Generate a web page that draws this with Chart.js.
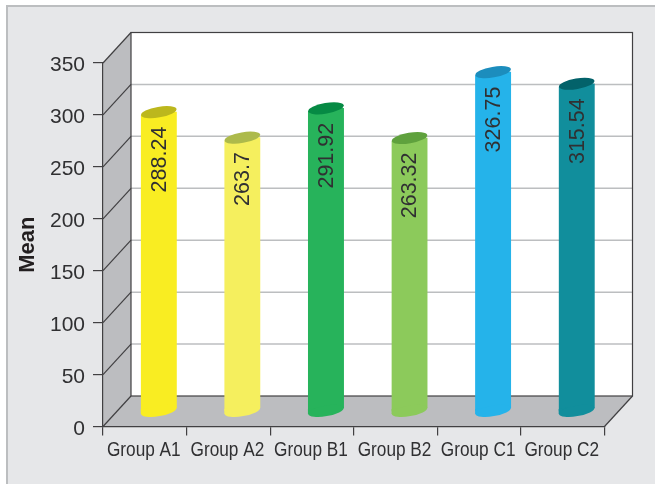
<!DOCTYPE html>
<html>
<head>
<meta charset="utf-8">
<script src="https://cdn.jsdelivr.net/npm/chart.js@4"></script>
<style>
  html, body { margin: 0; padding: 0; background: #fff; overflow: hidden; }
  #panel { position: absolute; left: 6px; top: 5px; right: 0; bottom: 0; background: #e6e7e9;
           border-left: 2px solid #bcbec0; border-top: 2px solid #bcbec0; }
  canvas { position: absolute; left: 0; top: 0; }
</style>
</head>
<body>
<div id="panel"></div>
<canvas id="barChart" width="655" height="484"></canvas>
<script>
const categories = ['Group A1', 'Group A2', 'Group B1', 'Group B2', 'Group C1', 'Group C2'];
const means = [288.24, 263.7, 291.92, 263.32, 326.75, 315.54];
const bodyColors = ['#f9ed22', '#f5ef5e', '#27b35b', '#8cca5b', '#25b3ea', '#118e9c'];
const capColors = ['#bcb71d', '#adba4b', '#068a44', '#5fa13d', '#1c8dbd', '#03626a'];
const yTicks = [0, 50, 100, 150, 200, 250, 300, 350];

const DARK = '#414042';
const TEXT = '#303032';
const WALL = '#bcbdc0';
const GRID = '#bcbec0';
// depth of the fake 3d box, the bars stand half way in
const depthX = 28, depthY = 30.5;
const barX = 14, barY = -15;
const capRx = 18, capRy = 5.3, capTilt = -0.17;
const slant = 3;

// side wall, floor and back wall, behind the axes
const boxPlugin = {
    id: 'box',
    beforeDraw(chart) {
        const { ctx, chartArea: a, scales: { y } } = chart;
        ctx.save();
        ctx.fillStyle = WALL;
        ctx.beginPath();
        ctx.moveTo(a.left, a.top);
        ctx.lineTo(a.left + depthX, a.top - depthY);
        ctx.lineTo(a.left + depthX, a.bottom - depthY);
        ctx.lineTo(a.right + depthX, a.bottom - depthY);
        ctx.lineTo(a.right, a.bottom);
        ctx.lineTo(a.left, a.bottom);
        ctx.closePath();
        ctx.fill();

        ctx.fillStyle = '#fff';
        ctx.fillRect(a.left + depthX, a.top - depthY, a.right - a.left, a.bottom - a.top);

        yTicks.forEach(v => {
            const py = y.getPixelForValue(v);
            if (v > 0 && v < 350) {
                ctx.lineWidth = 1.5;
                ctx.strokeStyle = GRID;
                ctx.beginPath();
                ctx.moveTo(a.left + depthX, py - depthY);
                ctx.lineTo(a.right + depthX, py - depthY);
                ctx.stroke();
            }
            ctx.lineWidth = 1.2;
            ctx.strokeStyle = DARK;
            ctx.beginPath();
            ctx.moveTo(a.left, py);
            ctx.lineTo(a.left + depthX, py - depthY);
            ctx.stroke();
        });

        ctx.strokeStyle = DARK;
        ctx.strokeRect(a.left + depthX, a.top - depthY, a.right - a.left, a.bottom - a.top);
        ctx.beginPath();
        ctx.moveTo(a.right, a.bottom);
        ctx.lineTo(a.right + depthX, a.bottom - depthY);
        ctx.stroke();
        ctx.restore();
    }
};

function ellipse(ctx, x, y, color) {
    ctx.fillStyle = color;
    ctx.beginPath();
    ctx.ellipse(x, y, capRx, capRy, capTilt, 0, Math.PI * 2);
    ctx.fill();
}

// bars are drawn by chart.js, shifted into the box and cut to the slanted ends
const cylinderPlugin = {
    id: 'cylinder',
    beforeDatasetDraw(chart, args) {
        const { ctx } = chart;
        ctx.save();
        ctx.translate(barX, barY);
        ctx.beginPath();
        args.meta.data.forEach(bar => {
            const w = bar.width / 2;
            ctx.moveTo(bar.x - w, bar.y + slant);
            ctx.lineTo(bar.x + w, bar.y - slant);
            ctx.lineTo(bar.x + w, bar.base - slant);
            ctx.lineTo(bar.x - w, bar.base + slant);
            ctx.closePath();
        });
        ctx.clip();
    },
    afterDatasetDraw(chart, args) {
        const { ctx } = chart;
        ctx.restore();
        ctx.save();
        args.meta.data.forEach((bar, i) => {
            const cx = bar.x + barX;
            const w = bar.width / 2;
            ctx.fillStyle = bodyColors[i];
            ctx.beginPath();
            ctx.moveTo(cx - w, bar.base + barY - 2);
            ctx.lineTo(cx - w, bar.base + barY + slant);
            ctx.lineTo(cx + w, bar.base + barY - slant);
            ctx.closePath();
            ctx.fill();
            ellipse(ctx, cx, bar.base + barY, bodyColors[i]);
            ellipse(ctx, cx, bar.y + barY, capColors[i]);

            ctx.save();
            ctx.translate(cx, bar.y + barY + 14.5);
            ctx.rotate(-Math.PI / 2);
            ctx.font = '21.5px "Liberation Sans"';
            ctx.fillStyle = TEXT;
            ctx.textAlign = 'right';
            ctx.textBaseline = 'middle';
            ctx.fillText(String(means[i]), 0, 1);
            ctx.restore();
        });
        ctx.restore();
    }
};

// the narrow tall category labels: no condensed font here, so squeeze Liberation Sans
const xLabelPlugin = {
    id: 'xLabels',
    afterDraw(chart) {
        const { ctx, scales: { x } } = chart;
        ctx.save();
        ctx.font = '20.5px "Liberation Sans"';
        ctx.fillStyle = TEXT;
        ctx.textAlign = 'center';
        ctx.textBaseline = 'alphabetic';
        categories.forEach((name, i) => {
            ctx.save();
            ctx.translate(x.getPixelForTick(i) - 1, 456);
            ctx.scale(0.84, 1);
            ctx.fillText(name, 0, 0);
            ctx.restore();
        });
        ctx.restore();
    }
};

new Chart(document.getElementById('barChart'), {
    type: 'bar',
    data: {
        labels: categories,
        datasets: [{
            label: 'Mean',
            data: means,
            backgroundColor: bodyColors,
            barThickness: 36,
            clip: false
        }]
    },
    plugins: [boxPlugin, cylinderPlugin, xLabelPlugin],
    options: {
        responsive: false,
        animation: false,
        layout: { padding: { top: 63, right: 50.5, bottom: 0, left: 0 } },
        plugins: { legend: { display: false }, tooltip: { enabled: false } },
        scales: {
            x: {
                afterFit(scale) { scale.height = 57.5; },
                border: { color: DARK, width: 1.2 },
                grid: { drawOnChartArea: false, drawTicks: true, tickLength: 9, color: DARK, lineWidth: 1.2 },
                ticks: { display: false }
            },
            y: {
                min: 0,
                max: 350,
                afterFit(scale) { scale.width = 103; },
                afterBuildTicks(scale) { scale.ticks = yTicks.map(value => ({ value })); },
                border: { color: DARK, width: 1.2 },
                grid: { drawOnChartArea: false, drawTicks: true, tickLength: 10, color: DARK, lineWidth: 1.2 },
                ticks: {
                    color: TEXT,
                    padding: 8,
                    labelOffset: 2.5,
                    font: { family: '"Liberation Sans"', size: 21 }
                },
                title: {
                    display: true,
                    text: 'Mean',
                    color: '#231f20',
                    padding: { top: 15, bottom: 0 },
                    font: { family: '"Liberation Sans"', size: 22, weight: 'bold' }
                }
            }
        }
    }
});
</script>
</body>
</html>
